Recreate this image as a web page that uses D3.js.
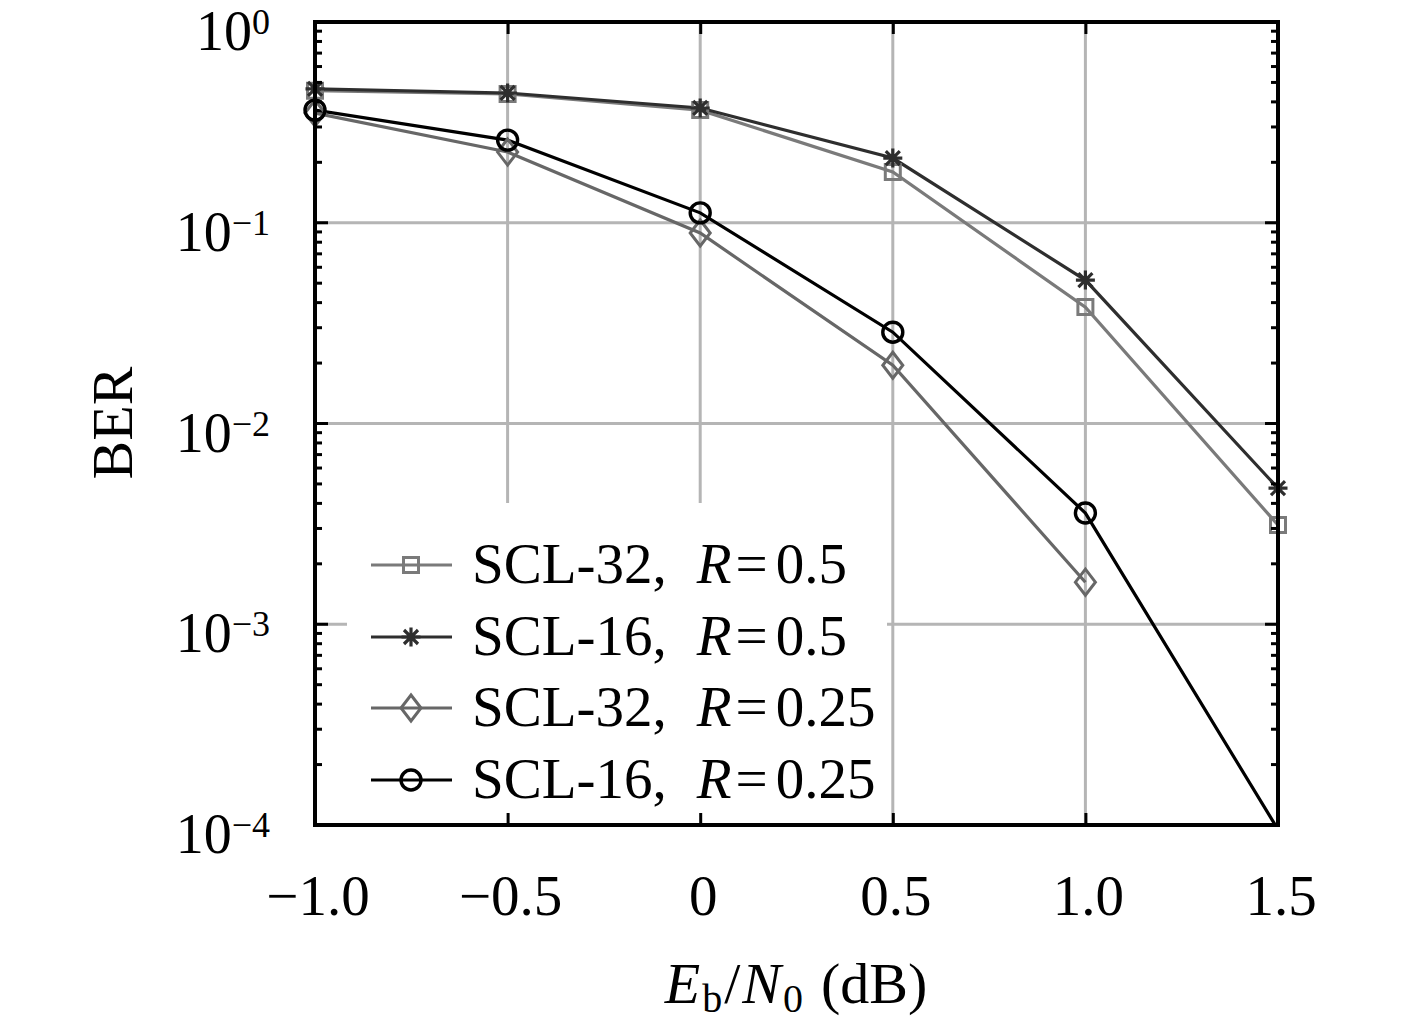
<!DOCTYPE html>
<html><head><meta charset="utf-8">
<script src="https://cdn.jsdelivr.net/npm/d3@7"></script>
<style>html,body{margin:0;padding:0;background:#fff;}</style>
</head><body>
<script>
// ---- data ----
const ebn0 = [-1.0, -0.5, 0, 0.5, 1.0, 1.5];
const scl32_r05  = [0.455, 0.438, 0.364, 0.179, 0.038, 0.00312];
const scl16_r05  = [0.464, 0.443, 0.373, 0.210, 0.0518, 0.00476];
const scl32_r025 = [0.352, 0.225, 0.0889, 0.0195, 0.00162];
const scl16_r025 = [0.364, 0.258, 0.112, 0.0285, 0.00358, 0.000095];
const seriesNames = ["SCL-32,", "SCL-16,", "SCL-32,", "SCL-16,"];
const seriesRates = ["0.5", "0.5", "0.25", "0.25"];
const xTickValues = [-1.0, -0.5, 0, 0.5, 1.0, 1.5];
const xTickLabels = ["\u22121.0", "\u22120.5", "0", "0.5", "1.0", "1.5"];
const yDecades = [1, 1e-1, 1e-2, 1e-3, 1e-4];
const yExponents = ["0", "\u22121", "\u22122", "\u22123", "\u22124"];

const W = 1417, H = 1028;
const L = 315, R = 1278, T = 22, B = 825;
const font = "'Liberation Serif', 'Times New Roman', serif";

const svg = d3.select("body").append("svg").attr("width", W).attr("height", H);
svg.append("rect").attr("width", W).attr("height", H).attr("fill", "#fff");

const x = d3.scaleLinear().domain([-1, 1.5]).range([L, R]);
const y = d3.scaleLog().domain([1e-4, 1]).range([B, T]);

// grid
const grid = svg.append("g").attr("stroke", "#b5b5b5").attr("stroke-width", 3);
grid.selectAll("line.v").data(xTickValues.slice(1, -1)).join("line")
  .attr("x1", d => x(d)).attr("x2", d => x(d)).attr("y1", T).attr("y2", B);
grid.selectAll("line.h").data(yDecades.slice(1, -1)).join("line")
  .attr("x1", L).attr("x2", R).attr("y1", d => y(d)).attr("y2", d => y(d));

// clip
svg.append("clipPath").attr("id", "clip").append("rect")
  .attr("x", L).attr("y", T).attr("width", R - L).attr("height", B - T);

const markers = {
  square: d3.symbol().type(d3.symbolSquare).size(225)(),
  star: "M0,-9.5L0,9.5M-9.5,0L9.5,0M-7,-7L7,7M-7,7L7,-7",
  diamond: "M0,-13L10,0L0,13L-10,0Z",
  circle: d3.symbol().type(d3.symbolCircle).size(Math.PI * 100)()
};

const series = [
  {vals: scl32_r05,  color: "#7a7a7a", marker: "square",  mw: 3},
  {vals: scl16_r05,  color: "#2e2e2e", marker: "star",    mw: 3.2},
  {vals: scl32_r025, color: "#676767", marker: "diamond", mw: 3},
  {vals: scl16_r025, color: "#000000", marker: "circle",  mw: 3.4}
];

const line = d3.line().x(d => x(d[0])).y(d => y(d[1]));
const plot = svg.append("g").attr("clip-path", "url(#clip)");
const markG = svg.append("g");
series.forEach(s => {
  const pts = s.vals.map((v, i) => [ebn0[i], v]);
  plot.append("path").datum(pts).attr("d", line)
    .attr("fill", "none").attr("stroke", s.color).attr("stroke-width", 3.2);
  markG.selectAll(null).data(pts.filter(d => d[1] >= 1e-4 && d[1] <= 1)).join("path")
    .attr("transform", d => `translate(${x(d[0])},${y(d[1])})`)
    .attr("d", markers[s.marker]).attr("fill", "none")
    .attr("stroke", s.color).attr("stroke-width", s.mw);
});

// legend
const lg = svg.append("g");
lg.append("rect").attr("x", 347).attr("y", 503).attr("width", 540).attr("height", B - 503 - 2).attr("fill", "#fff");
const rowY = [565, 637, 708, 780];
series.forEach((s, i) => {
  const g = lg.append("g").attr("transform", `translate(0,${rowY[i]})`);
  g.append("line").attr("x1", 371).attr("x2", 452).attr("y1", 0).attr("y2", 0)
    .attr("stroke", s.color).attr("stroke-width", 3.2);
  g.append("path").attr("transform", "translate(411,0)").attr("d", markers[s.marker])
    .attr("fill", "none").attr("stroke", s.color).attr("stroke-width", s.mw);
  const t = g.append("text").attr("x", 472).attr("y", 18)
    .attr("font-family", font).attr("font-size", 57).attr("fill", "#000");
  t.append("tspan").text(seriesNames[i]);
  t.append("tspan").attr("font-style", "italic").attr("dx", 30).text("R");
  t.append("tspan").attr("dx", 4).text("=");
  t.append("tspan").attr("dx", 8).text(seriesRates[i]);
});

// axes box
svg.append("rect").attr("x", L).attr("y", T).attr("width", R - L).attr("height", B - T)
  .attr("fill", "none").attr("stroke", "#000").attr("stroke-width", 4);

// ticks
const tickG = svg.append("g").attr("stroke", "#000").attr("stroke-width", 3);
const xAxisB = d3.axisBottom(x).tickValues(xTickValues).tickSize(-12).tickFormat("");
const xAxisT = d3.axisTop(x).tickValues(xTickValues).tickSize(-12).tickFormat("");
svg.append("g").attr("transform", `translate(0,${B})`).call(xAxisB)
  .call(g => g.select(".domain").remove()).selectAll("line").attr("stroke-width", 3);
svg.append("g").attr("transform", `translate(0,${T})`).call(xAxisT)
  .call(g => g.select(".domain").remove()).selectAll("line").attr("stroke-width", 3);

const minor = y.ticks().filter(v => !yDecades.some(d => Math.abs(d - v) / v < 1e-6));
[ [L, 1], [R, -1] ].forEach(([x0, dir]) => {
  tickG.selectAll(null).data(yDecades).join("line")
    .attr("x1", x0).attr("x2", x0 + dir * 13).attr("y1", d => y(d)).attr("y2", d => y(d));
  tickG.selectAll(null).data(minor).join("line")
    .attr("x1", x0).attr("x2", x0 + dir * 7).attr("y1", d => y(d)).attr("y2", d => y(d));
});

// x tick labels
svg.append("g").selectAll("text").data(xTickValues).join("text")
  .attr("x", d => x(d) + 3).attr("y", 915).attr("text-anchor", "middle")
  .attr("font-family", font).attr("font-size", 57).text((d, i) => xTickLabels[i]);

// y tick labels
yDecades.forEach((d, i) => {
  const t = svg.append("text").attr("x", 270).attr("y", y(d) + 28).attr("text-anchor", "end")
    .attr("font-family", font).attr("font-size", 56);
  t.append("tspan").text("10");
  t.append("tspan").attr("font-size", 36).attr("dy", -16).text(yExponents[i]);
});

// axis labels
const xl = svg.append("text").attr("x", 796).attr("y", 1003).attr("text-anchor", "middle")
  .attr("font-family", font).attr("font-size", 58);
xl.append("tspan").attr("font-style", "italic").text("E");
xl.append("tspan").attr("font-size", 40).attr("dy", 9).attr("dx", 2).text("b");
xl.append("tspan").attr("dy", -9).attr("dx", 2).text("/");
xl.append("tspan").attr("font-style", "italic").attr("dx", 2).text("N");
xl.append("tspan").attr("font-size", 40).attr("dy", 9).attr("dx", 2).text("0");
xl.append("tspan").attr("dy", -9).attr("dx", 18).text("(dB)");

svg.append("text").attr("transform", "translate(132,423) rotate(-90)")
  .attr("text-anchor", "middle").attr("font-family", font).attr("font-size", 58).text("BER");
</script>
</body></html>
